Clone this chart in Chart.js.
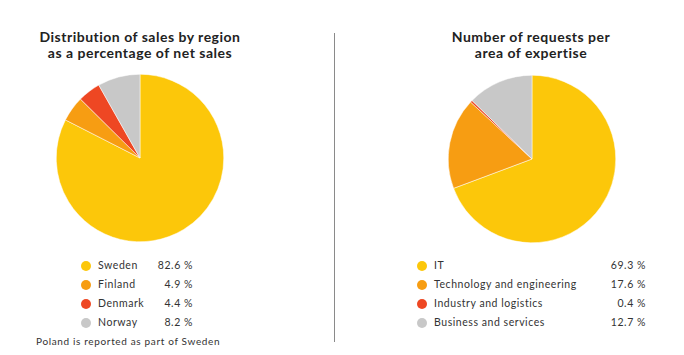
<!DOCTYPE html>
<html>
<head>
<meta charset="utf-8">
<script src="https://cdn.jsdelivr.net/npm/chart.js@4"></script>
<style>
  html, body { margin: 0; padding: 0; background: #fff; }
  body { width: 684px; height: 355px; position: relative; overflow: hidden; font-family: Lato, "Open Sans", sans-serif; color: #2b2b2b; }
  .title { position: absolute; width: 320px; text-align: center; font-weight: bold; font-size: 14px; line-height: 16px; letter-spacing: 0.5px; color: #222; }
  canvas { position: absolute; }
  .divider { position: absolute; left: 334px; top: 33px; width: 1px; height: 309px; background: #8a8a8a; }
  .legend { position: absolute; font-size: 10.5px; letter-spacing: 0.55px; color: #333; }
  .row { position: absolute; height: 19px; line-height: 19px; white-space: nowrap; }
  .dot { position: absolute; width: 10px; height: 10px; border-radius: 50%; top: 4.5px; left: 0; }
  .lab { position: absolute; left: 17px; }
  .val { position: absolute; text-align: right; }
  .note { position: absolute; left: 36px; top: 335px; font-size: 10px; letter-spacing: 0.65px; color: #333; white-space: nowrap; }
</style>
</head>
<body>
<div class="title" style="left:-20px; top:29px;">Distribution of sales by region<br>as a percentage of net sales</div>
<div class="title" style="left:371px; top:29px;">Number of requests per<br>area of expertise</div>
<div class="divider"></div>
<canvas id="c1" width="168" height="168" style="left:56px; top:74px;"></canvas>
<canvas id="c2" width="168" height="168" style="left:448px; top:75px;"></canvas>
<div id="leg1" class="legend" style="left:81px; top:256px; width:112px;"></div>
<div id="leg2" class="legend" style="left:417px; top:256px; width:229px;"></div>
<div class="note">Poland is reported as part of Sweden</div>
<script>
const colors = ['#FCC70A', '#F79D12', '#EE4723', '#C8C8C8'];

const regionLabels = ['Sweden', 'Finland', 'Denmark', 'Norway'];
const regionValues = [82.6, 4.9, 4.4, 8.2];
const regionTexts = ['82.6 %', '4.9 %', '4.4 %', '8.2 %'];

const areaLabels = ['IT', 'Technology and engineering', 'Industry and logistics', 'Business and services'];
const areaValues = [69.3, 17.6, 0.4, 12.7];
const areaTexts = ['69.3 %', '17.6 %', '0.4 %', '12.7 %'];

function makePie(id, labels, values) {
  new Chart(document.getElementById(id), {
    type: 'pie',
    data: {
      labels: labels,
      datasets: [{ data: values, backgroundColor: colors, borderColor: '#ffffff', borderWidth: 0.5 }]
    },
    options: {
      responsive: false,
      animation: false,
      layout: { padding: 0 },
      plugins: { legend: { display: false }, tooltip: { enabled: false }, title: { display: false } }
    }
  });
}

function makeLegend(id, labels, texts, valRight) {
  const el = document.getElementById(id);
  labels.forEach((l, i) => {
    const row = document.createElement('div');
    row.className = 'row';
    row.style.top = (i * 19) + 'px';
    row.style.left = '0px';
    row.style.width = valRight + 'px';
    row.innerHTML = '<span class="dot" style="background:' + colors[i] + '"></span>' +
      '<span class="lab">' + l + '</span>' +
      '<span class="val" style="right:0">' + texts[i] + '</span>';
    el.appendChild(row);
  });
}

makePie('c1', regionLabels, regionValues);
makePie('c2', areaLabels, areaValues);
makeLegend('leg1', regionLabels, regionTexts, 112);
makeLegend('leg2', areaLabels, areaTexts, 229);
</script>
</body>
</html>
